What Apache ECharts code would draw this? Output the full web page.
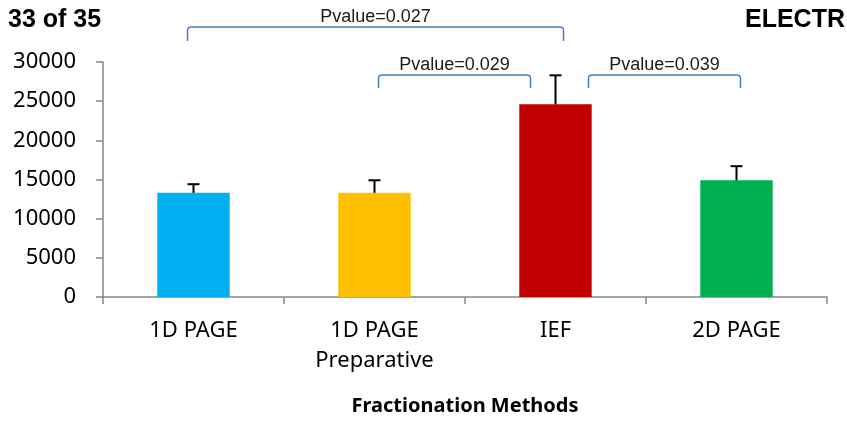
<!DOCTYPE html>
<html>
<head>
<meta charset="utf-8">
<script src="https://cdn.jsdelivr.net/npm/echarts@6/dist/echarts.min.js"></script>
<style>
  html, body { margin: 0; padding: 0; background: #fff; }
  #chart { width: 847px; height: 425px; }
</style>
</head>
<body>
<div id="chart"></div>
<script>
// Fractionation methods and their mean values with upper error limits
const categories = ['1D PAGE', '1D PAGE\nPreparative', 'IEF', '2D PAGE'];
const means = [13300, 13300, 24600, 14900];
const upperLimits = [14400, 14900, 28300, 16700];
const barColors = ['#00b0f0', '#ffc000', '#c00000', '#00b050'];
const yTicks = [0, 5000, 10000, 15000, 20000, 25000, 30000];

// Pairwise comparisons: [from category, to category, p-value text]
const comparisons = [
  [0, 2, 'Pvalue=0.027'],
  [1, 2, 'Pvalue=0.029'],
  [2, 3, 'Pvalue=0.039']
];
// Bracket geometry (pixel offsets from category centres, bracket top y, end drop)
const bracketLayout = [
  { dx0: -6, dx1: 8, top: 27, drop: 14 },
  { dx0: 4, dx1: -25, top: 75, drop: 13 },
  { dx0: 33, dx1: 4, top: 75, drop: 13 }
];

const chart = echarts.init(document.getElementById('chart'), null, { renderer: 'canvas' });

const axisGray = '#868686';

chart.setOption({
  animation: false,
  grid: { left: 103, right: 20, top: 62, bottom: 128, containLabel: false },
  xAxis: {
    type: 'category',
    data: categories,
    name: 'Fractionation Methods',
    nameLocation: 'middle',
    nameGap: 99,
    nameTextStyle: { fontFamily: 'Noto Sans', fontWeight: 'bold', fontSize: 20, color: '#000' },
    axisLine: { lineStyle: { color: axisGray, width: 1.5 } },
    axisTick: { show: true, length: 7, lineStyle: { color: axisGray, width: 1.5 } },
    axisLabel: { color: '#000', fontFamily: 'Noto Sans', fontSize: 22, lineHeight: 30, margin: 19 }
  },
  yAxis: {
    type: 'value',
    min: yTicks[0],
    max: yTicks[yTicks.length - 1],
    interval: yTicks[1] - yTicks[0],
    splitLine: { show: false },
    axisLine: { show: true, lineStyle: { color: axisGray, width: 1.5 } },
    axisTick: { show: true, length: 7, lineStyle: { color: axisGray, width: 1.5 } },
    axisLabel: {
      color: '#000', fontFamily: 'Noto Sans', fontSize: 22, margin: 27,
      formatter: function (v) { return String(v); }
    }
  },
  series: [
    {
      type: 'bar',
      barWidth: '40%',
      data: means.map((v, i) => ({ value: v, itemStyle: { color: barColors[i] } })),
      z: 2
    },
    {
      type: 'custom',
      z: 3,
      data: means.map((v, i) => [i, v, upperLimits[i]]),
      renderItem: function (params, api) {
        const base = api.coord([api.value(0), api.value(1)]);
        const top = api.coord([api.value(0), api.value(2)]);
        const half = 6;
        return {
          type: 'group',
          children: [
            { type: 'line', shape: { x1: base[0], y1: base[1], x2: top[0], y2: top[1] },
              style: { stroke: '#000', lineWidth: 2 } },
            { type: 'line', shape: { x1: top[0] - half, y1: top[1], x2: top[0] + half, y2: top[1] },
              style: { stroke: '#000', lineWidth: 2 } }
          ]
        };
      }
    }
  ]
});

// Significance brackets above the bars
const graphics = [];
comparisons.forEach(function (c, k) {
  const L = bracketLayout[k];
  const x0 = chart.convertToPixel({ xAxisIndex: 0 }, categories[c[0]]) + L.dx0;
  const x1 = chart.convertToPixel({ xAxisIndex: 0 }, categories[c[1]]) + L.dx1;
  const y = L.top, yb = L.top + L.drop;
  graphics.push({
    type: 'polyline',
    shape: {
      points: [
        [x0, yb], [x0, y + 3], [x0 + 0.8, y + 0.8], [x0 + 3, y],
        [x1 - 3, y], [x1 - 0.8, y + 0.8], [x1, y + 3], [x1, yb]
      ]
    },
    style: { fill: null, stroke: '#4a7ebb', lineWidth: 1.5 }
  });
  graphics.push({
    type: 'text',
    x: (x0 + x1) / 2,
    y: y - 1,
    style: { text: c[2], fill: '#1a1a1a', font: '18px "Liberation Sans"', align: 'center', verticalAlign: 'bottom' }
  });
});

// Header fragments
graphics.push({
  type: 'text', x: 8, y: 8,
  style: { text: '33 of 35', fill: '#000', font: 'bold 25px "Liberation Sans"' }
});
graphics.push({
  type: 'text', x: 745, y: 8,
  style: { text: 'ELECTR', fill: '#000', font: 'bold 25px "Liberation Sans"' }
});

chart.setOption({ graphic: graphics });
</script>
</body>
</html>
